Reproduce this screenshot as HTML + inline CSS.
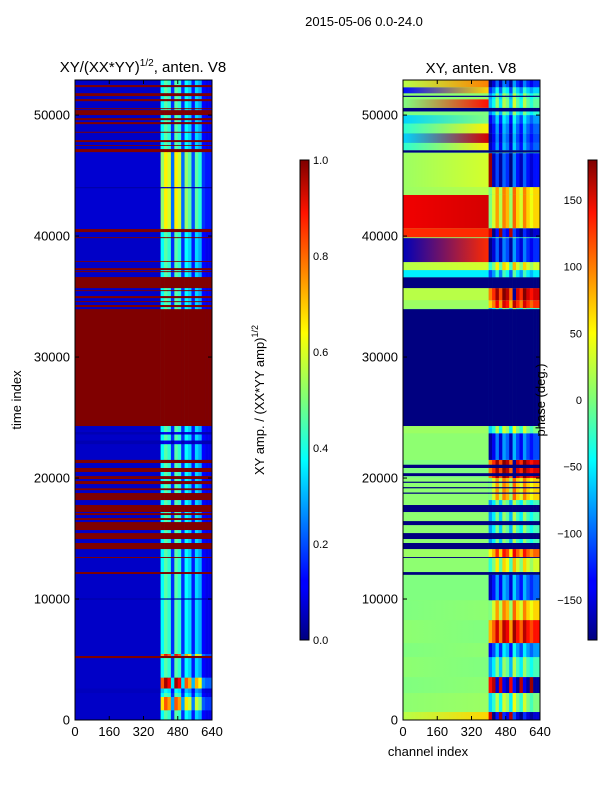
<!DOCTYPE html>
<html><head><meta charset="utf-8"><style>
body{margin:0;background:#fff;}
svg text{font-family:"Liberation Sans",sans-serif;fill:#000;}
</style></head><body>
<svg id="fig" width="600" height="800" xmlns="http://www.w3.org/2000/svg">
<defs>
<linearGradient id="jetv" x1="0" y1="1" x2="0" y2="0">
<stop offset="0" stop-color="#00007f"/><stop offset="0.11" stop-color="#0000ff"/><stop offset="0.125" stop-color="#0000ff"/><stop offset="0.34" stop-color="#00dcff"/><stop offset="0.375" stop-color="#00ffff"/><stop offset="0.5" stop-color="#7cff79"/><stop offset="0.64" stop-color="#ffff00"/><stop offset="0.89" stop-color="#ff1300"/><stop offset="1" stop-color="#7f0000"/>
</linearGradient>
</defs>
<text x="364" y="26" font-size="13" text-anchor="middle">2015-05-06 0.0-24.0</text>
<g id="ampPanel"></g>
<g id="phasePanel"></g>
<g id="axes"></g>
<text x="143" y="72" font-size="15" text-anchor="middle">XY/(XX*YY)<tspan font-size="10" dy="-6">1/2</tspan><tspan dy="6">, anten. V8</tspan></text>
<text x="471" y="73" font-size="15" text-anchor="middle">XY, anten. V8</text>
<text x="0" y="0" font-size="13" text-anchor="middle" transform="translate(21,400) rotate(-90)">time index</text>
<text x="428" y="756" font-size="13" text-anchor="middle">channel index</text>
<rect x="300" y="160" width="9" height="480" fill="url(#jetv)" stroke="#000" stroke-width="1"/>
<rect x="588" y="160" width="9" height="480" fill="url(#jetv)" stroke="#000" stroke-width="1"/>
<text font-size="13" text-anchor="middle" transform="translate(264,400) rotate(-90)">XY amp. / (XX*YY amp)<tspan font-size="9" dy="-6">1/2</tspan></text>
<text font-size="13" text-anchor="middle" transform="translate(545,400) rotate(-90)">phase (deg.)</text>
</svg>
<script>
const tMax = 52900;
const yTicks = [0,10000,20000,30000,40000,50000];
const xTicks = [0,160,320,480,640];
const ampTicks = [0.0,0.2,0.4,0.6,0.8,1.0];
const phaseTicks = [-150,-100,-50,0,50,100,150];
// channel profile for right band (16-channel bins starting at ch 400)
const ampProfile = [0.9,1.1,1.0,0.4,1.1,1.0,0.4,0.9,0.8,0.35,0.8,0.7,0.3,0.25,0.25];
const phaseOffset = [-60,-30,20,-40,30,10,-50,40,0,-30,30,0,-20,0,0];
// [t0, t1, leftAmp, rightAmp]
const ampSegments = [
[0,52900,0.07,0.42],
[40600,47000,0.08,0.58],
[800,1900,0.07,0.72],[2600,3500,0.07,0.88],[5300,5450,0.07,0.8],
[2230,2600,0.06,0.35],[5120,5290,1,1],[9950,10050,0.04,0.04],
[12070,12230,1,1],[13390,13470,1,1],[14130,14630,1,1],[14960,15450,1,1],[15700,16360,1,1],
[16530,16690,1,1],[16940,17100,1,1],[17190,17770,1,1],[18180,18760,1,1],[19000,19150,1,1],
[19500,19750,1,1],[19920,20160,1,1],[20500,20830,1,1],[21240,21500,1,1],
[22800,23100,0.05,0.1],[23600,23800,0.05,0.1],
[24300,33960,1,1],[34130,34300,1,1],[34540,34620,1,1],[34870,35040,1,1],[35450,35530,1,1],
[35700,36610,1,1],[37020,37100,1,1],[37190,37350,1,1],[37880,37930,1,1],[39830,39910,1,1],
[40330,40580,1,1],[43950,44050,0.04,0.06],
[46940,47190,1,1],[47450,47520,1,1],[47770,47930,1,1],[48540,48620,1,1],[49250,49420,1,1],
[49580,49750,1,1],[50000,50410,1,1],[50490,50570,1,1],[51150,51320,1,1],[51570,51810,1,1],
[52310,52480,1,1]
];
// [t0, t1, phaseAtCh0, phaseAtCh400, rightPhase]
const phaseSegments = [
[0,52900,5,5,-20],
[0,660,20,60,-150],[660,2230,5,10,0],[2230,3550,0,5,-170],[3550,5200,5,0,-20],
[5200,6360,0,5,-80],[6360,8260,5,0,130],[8260,9900,0,5,60],[9900,12000,0,0,-100],
[12000,12230,-180,-180,-180],[12230,13470,5,5,30],[13390,13470,-180,-180,-180],
[13470,14130,10,10,100],[14130,14630,-180,-180,-180],[14960,15450,-180,-180,-180],
[16110,16440,-180,-180,-180],[17190,17770,-180,-180,-180],[18180,20000,5,5,60],
[18700,18800,-180,-180,-180],[19150,19250,-180,-180,-180],[19600,19700,-180,-180,-180],
[20000,21500,0,0,150],[20160,20400,-180,-180,-180],[20830,21100,-180,-180,-180],
[21500,23700,5,5,-110],[23700,24300,10,10,0],[24300,33960,-180,-180,-180],
[34050,34700,10,10,120],[34700,35700,20,20,150],[35700,36600,-180,-180,-180],
[36600,37190,-50,-50,-50],[37190,37850,20,30,30],[37850,39830,-160,120,-120],
[39900,40650,120,120,-150],[40650,43400,140,150,60],[43400,44050,10,20,60],
[44050,46850,10,30,-130],[46900,47100,-180,-180,-180],[47100,47700,-30,50,-100],
[47700,48500,-60,150,-110],[48500,49300,-30,50,-100],[49300,50000,-60,0,-80],
[50000,50300,0,0,-30],[50300,50600,-180,-180,-180],[50600,51300,0,130,-10],
[51500,51600,-180,-180,-180],[51800,52300,-130,60,-60],[52300,52900,20,90,-120]
];

const NS = 'http://www.w3.org/2000/svg';
const plotTop = 80, plotBot = 720, plotW = 137;
function yScale(t){ return plotBot - t / tMax * (plotBot - plotTop); }
function xScale(x0, ch){ return x0 + ch / 640 * plotW; }
function clip(v){ return Math.max(0, Math.min(1, v)); }
function jet(v){
  v = clip(v);
  const r = clip(1.5 - Math.abs(4*v - 3)), g = clip(1.5 - Math.abs(4*v - 2)), b = clip(1.5 - Math.abs(4*v - 1));
  return 'rgb(' + Math.round(r*255) + ',' + Math.round(g*255) + ',' + Math.round(b*255) + ')';
}
function mk(tag, attrs, parent){
  const e = document.createElementNS(NS, tag);
  for (const k in attrs) e.setAttribute(k, attrs[k]);
  parent.appendChild(e); return e;
}
let gid = 0;
function drawPanel(g, x0, segs, isPhase){
  segs.forEach(function(s){
    const y1 = yScale(s[1]), y0 = yScale(s[0]), h = Math.max(0.8, y0 - y1);
    let fill;
    if (isPhase && s[2] !== s[3]){
      const id = 'pg' + (gid++);
      const lg = mk('linearGradient', {id: id, x1: '0', x2: '1', y1: '0', y2: '0'}, g);
      mk('stop', {offset: '0', 'stop-color': jet((s[2]+180)/360)}, lg);
      mk('stop', {offset: '1', 'stop-color': jet((s[3]+180)/360)}, lg);
      fill = 'url(#' + id + ')';
    } else {
      fill = isPhase ? jet((s[2]+180)/360) : jet(s[2]);
    }
    const r = mk('rect', {x: x0, y: y1, width: xScale(x0,400) - x0 + 0.3, height: h, fill: fill}, g);
    
    
    const rv = isPhase ? s[4] : s[3];
    const leftEq = isPhase ? (s[2] === -180 && s[4] === -180) : (s[2] === s[3]);
    for (let b = 0; b < 15; b++){
      const c0 = 400 + b*16, c1 = Math.min(640, c0 + 16);
      let col;
      if (leftEq) col = isPhase ? jet(0) : jet(s[2]);
      else if (isPhase){ let p = rv + phaseOffset[b]; if (p > 180) p -= 360; if (p < -180) p += 360; col = jet((p+180)/360); }
      else col = jet(Math.max(s[2], rv * ampProfile[b]));
      const c = mk('rect', {x: xScale(x0,c0), y: y1, width: xScale(x0,c1) - xScale(x0,c0) + 0.3, height: h, fill: col}, g);
      
      
    }
  });
}
drawPanel(document.getElementById('ampPanel'), 75, ampSegments, false);
drawPanel(document.getElementById('phasePanel'), 403, phaseSegments, true);

const ax = document.getElementById('axes');
[75, 403].forEach(function(x0, pi){
  const fr = mk('rect', {x: x0, y: plotTop, width: plotW, height: plotBot-plotTop, fill: 'none', stroke: '#000', 'stroke-width': 1}, ax);
  
  
  yTicks.forEach(function(t){
    const y = yScale(t);
    mk('line', {x1: x0, x2: x0+4, y1: y, y2: y, stroke: '#000'}, ax);
    mk('line', {x1: x0+plotW-4, x2: x0+plotW, y1: y, y2: y, stroke: '#000'}, ax);
    const tx = mk('text', {x: x0-5, y: y+4.5, 'font-size': 13, 'text-anchor': 'end'}, ax);
    tx.textContent = t;
    
    
  });
  xTicks.forEach(function(c){
    const x = xScale(x0, c);
    mk('line', {x1: x, x2: x, y1: plotBot, y2: plotBot-4, stroke: '#000'}, ax);
    mk('line', {x1: x, x2: x, y1: plotTop, y2: plotTop+4, stroke: '#000'}, ax);
    const tx = mk('text', {x: x, y: plotBot+16, 'font-size': 13, 'text-anchor': 'middle'}, ax);
    tx.textContent = c;
    
    
  });
});
ampTicks.forEach(function(v){
  const y = 640 - v*480;
  mk('line', {x1: 305, x2: 309, y1: y, y2: y, stroke: '#000'}, ax);
  const tx = mk('text', {x: 313, y: y+4, 'font-size': 11}, ax);
  tx.textContent = v.toFixed(1);
  
  
});
phaseTicks.forEach(function(v){
  const y = 400 - v/180*240;
  mk('line', {x1: 593, x2: 597, y1: y, y2: y, stroke: '#000'}, ax);
  const tx = mk('text', {x: 582, y: y+4, 'font-size': 11, 'text-anchor': 'end'}, ax);
  tx.textContent = v < 0 ? '\u2212' + Math.abs(v) : v;
  
  
});
</script>
</body></html>
